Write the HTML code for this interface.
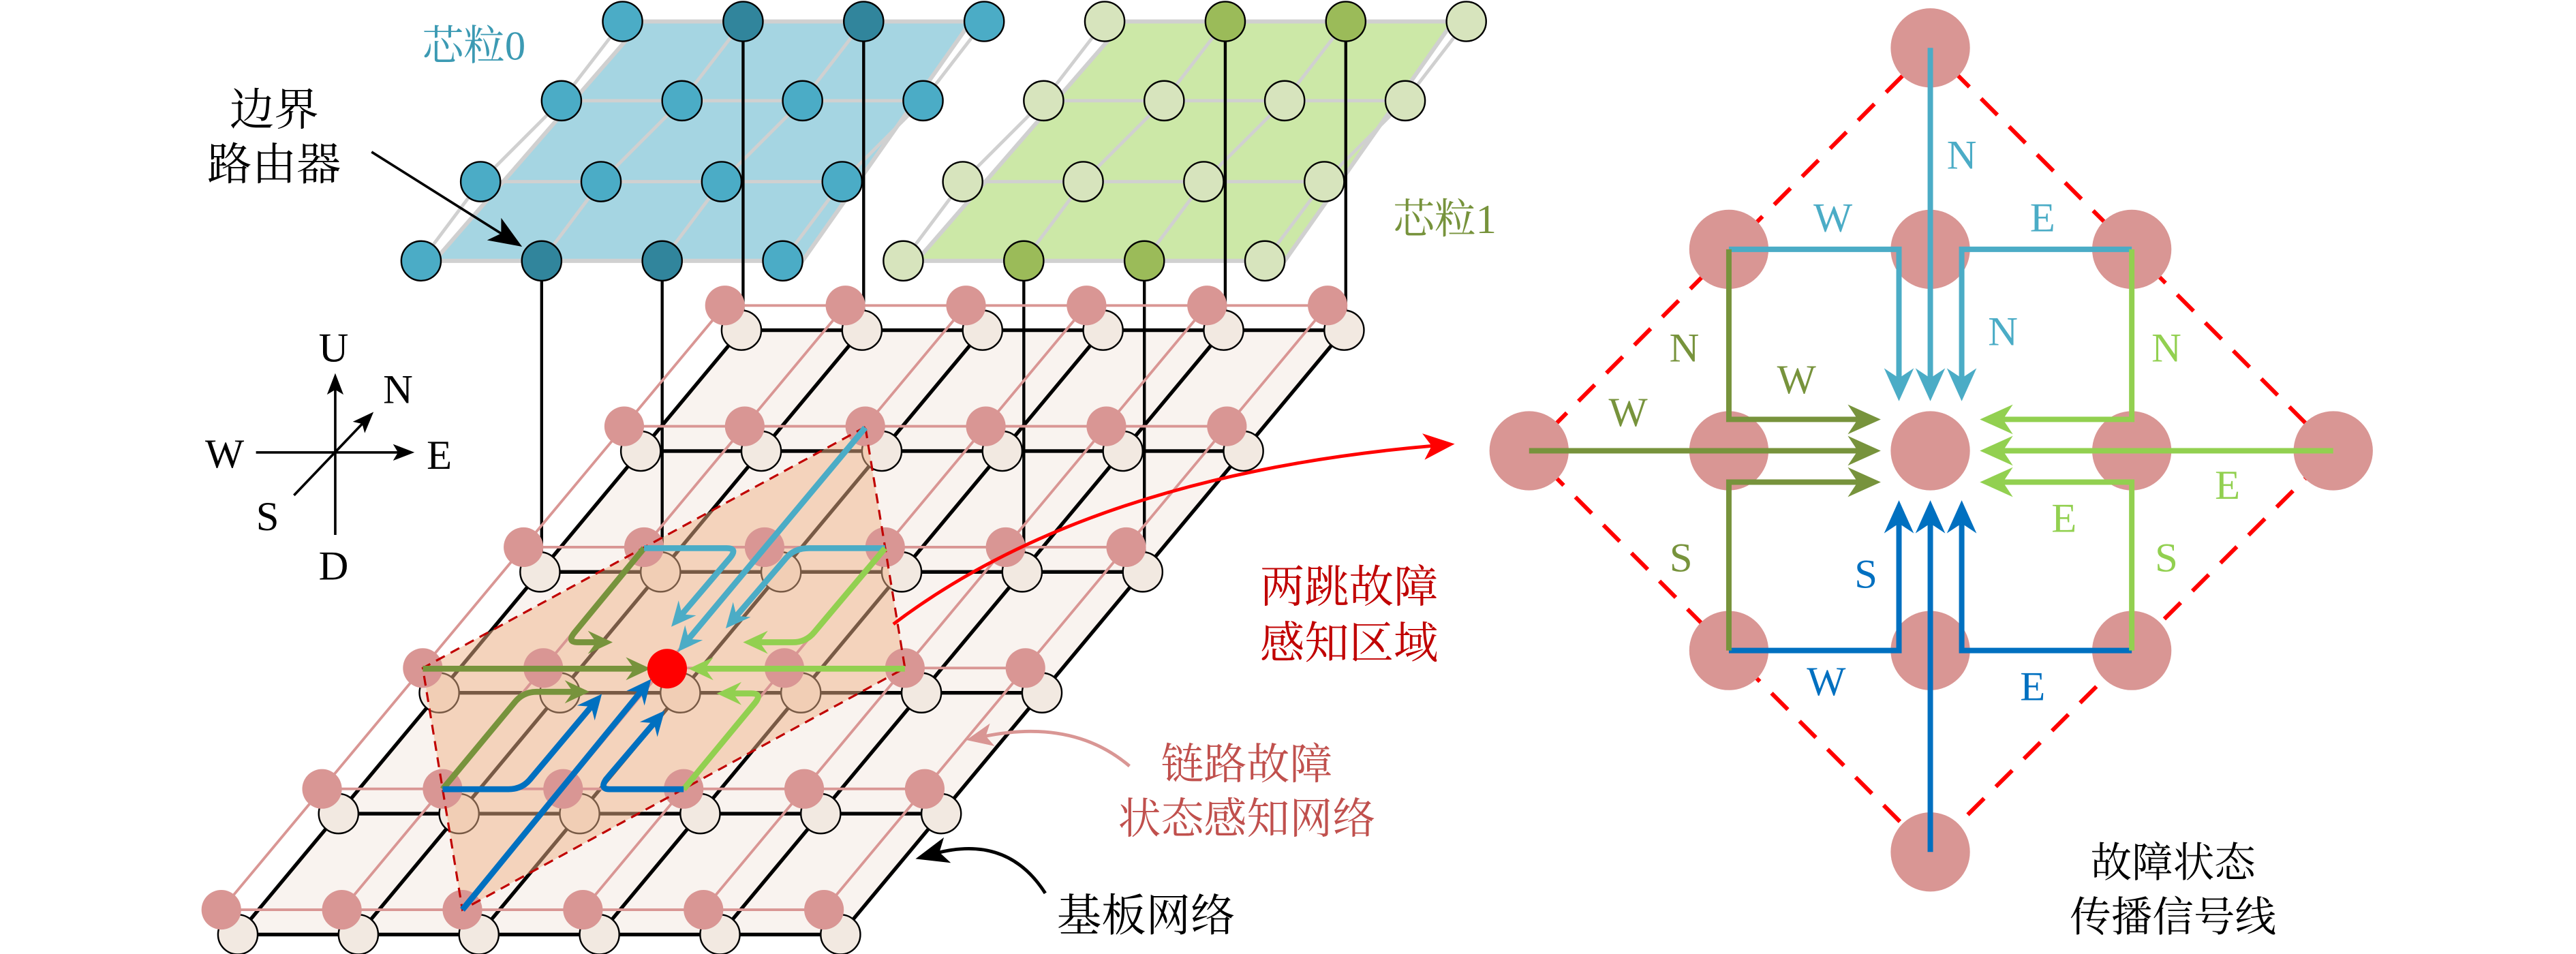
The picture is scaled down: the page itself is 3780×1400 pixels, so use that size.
<!DOCTYPE html>
<html><head><meta charset="utf-8"><style>
html,body{margin:0;padding:0;background:#fff;width:3780px;height:1400px;overflow:hidden}
svg{display:block}
text{font-family:"Liberation Serif","Noto Serif CJK SC","DejaVu Serif",serif;text-anchor:middle;dominant-baseline:central}
</style></head><body>
<svg width="3780" height="1400" viewBox="0 0 1560 577.8" xmlns="http://www.w3.org/2000/svg" font-family="'Liberation Serif','Noto Serif CJK SC','DejaVu Serif',serif">
<defs>
<marker id="sOl" markerUnits="userSpaceOnUse" markerWidth="40" markerHeight="40" viewBox="-20 -20 40 40" refX="0" refY="0" orient="auto"><path d="M10,0 L-5,-7 L0,0 L-5,7z" fill="#77933c"/></marker>
<marker id="sLb" markerUnits="userSpaceOnUse" markerWidth="40" markerHeight="40" viewBox="-20 -20 40 40" refX="0" refY="0" orient="auto"><path d="M10,0 L-5,-7 L0,0 L-5,7z" fill="#4bacc6"/></marker>
<marker id="sGr" markerUnits="userSpaceOnUse" markerWidth="40" markerHeight="40" viewBox="-20 -20 40 40" refX="0" refY="0" orient="auto"><path d="M10,0 L-5,-7 L0,0 L-5,7z" fill="#92d050"/></marker>
<marker id="sBl" markerUnits="userSpaceOnUse" markerWidth="40" markerHeight="40" viewBox="-20 -20 40 40" refX="0" refY="0" orient="auto"><path d="M10,0 L-5,-7 L0,0 L-5,7z" fill="#0070c0"/></marker>
<marker id="bOl" markerUnits="userSpaceOnUse" markerWidth="40" markerHeight="40" viewBox="-20 -20 40 40" refX="0" refY="0" orient="auto"><path d="M14,0 L-6,-9 L0,0 L-6,9z" fill="#77933c"/></marker>
<marker id="bLb" markerUnits="userSpaceOnUse" markerWidth="40" markerHeight="40" viewBox="-20 -20 40 40" refX="0" refY="0" orient="auto"><path d="M14,0 L-6,-9 L0,0 L-6,9z" fill="#4bacc6"/></marker>
<marker id="bGr" markerUnits="userSpaceOnUse" markerWidth="40" markerHeight="40" viewBox="-20 -20 40 40" refX="0" refY="0" orient="auto"><path d="M14,0 L-6,-9 L0,0 L-6,9z" fill="#92d050"/></marker>
<marker id="bBl" markerUnits="userSpaceOnUse" markerWidth="40" markerHeight="40" viewBox="-20 -20 40 40" refX="0" refY="0" orient="auto"><path d="M14,0 L-6,-9 L0,0 L-6,9z" fill="#0070c0"/></marker>
<marker id="kBig" markerUnits="userSpaceOnUse" markerWidth="40" markerHeight="40" viewBox="-20 -20 40 40" refX="0" refY="0" orient="auto"><path d="M12,0 L-8,-8 L-3,0 L-8,8z" fill="#000"/></marker>
<marker id="kSm" markerUnits="userSpaceOnUse" markerWidth="40" markerHeight="40" viewBox="-20 -20 40 40" refX="0" refY="0" orient="auto"><path d="M9,0 L-4,-5 L-1,0 L-4,5z" fill="#000"/></marker>
<marker id="red" markerUnits="userSpaceOnUse" markerWidth="40" markerHeight="40" viewBox="-20 -20 40 40" refX="0" refY="0" orient="auto"><path d="M13,0 L-6,-8 L-1,0 L-6,8z" fill="#ff0000"/></marker>
<marker id="pink" markerUnits="userSpaceOnUse" markerWidth="40" markerHeight="40" viewBox="-20 -20 40 40" refX="0" refY="0" orient="auto"><path d="M11,0 L-5,-7 L-1,0 L-5,7z" fill="#d99694"/></marker>
</defs>

<polygon points="389,13 588,13 486,158 263,158" fill="#a5d5e2" stroke="#d0d0d0" stroke-width="2.5"/>
<polygon points="681,13 880,13 778,158 555,158" fill="#cce8a7" stroke="#d0d0d0" stroke-width="2.5"/>
<g stroke="#d0d0d0" stroke-width="2" fill="none">
<path d="M377,13H596 M340,61H559 M291,110H510 M255,158H474 M377,13L340,61L291,110L255,158 M450,13L413,61L364,110L328,158 M523,13L486,61L437,110L401,158 M596,13L559,61L510,110L474,158"/>
<path d="M669,13H888 M632,61H851 M583,110H802 M547,158H766 M669,13L632,61L583,110L547,158 M742,13L705,61L656,110L620,158 M815,13L778,61L729,110L693,158 M888,13L851,61L802,110L766,158"/>
</g>

<polygon points="449,200 814,200 509,566 144,566" fill="#f9f3ef"/>

<g stroke="#000" stroke-width="1.8">
<path d="M450,13V200 M523,13V200 M742,13V200 M815,13V200 M328,158V346 M401,158V346 M620,158V346 M693,158V346"/>
</g>

<g stroke="#000" stroke-width="2.2" fill="none">
<path d="M449,200H814 M388,273.2H753 M327,346.4H692 M266,419.6H631 M205,492.8H570 M144,566H509"/>
<path d="M449,200L144,566 M522,200L217,566 M595,200L290,566 M668,200L363,566 M741,200L436,566 M814,200L509,566"/>
</g>
<g fill="#f2e9e1" stroke="#000" stroke-width="1">
<circle cx="449" cy="200" r="12"/><circle cx="522" cy="200" r="12"/><circle cx="595" cy="200" r="12"/><circle cx="668" cy="200" r="12"/><circle cx="741" cy="200" r="12"/><circle cx="814" cy="200" r="12"/>
<circle cx="388" cy="273.2" r="12"/><circle cx="461" cy="273.2" r="12"/><circle cx="534" cy="273.2" r="12"/><circle cx="607" cy="273.2" r="12"/><circle cx="680" cy="273.2" r="12"/><circle cx="753" cy="273.2" r="12"/>
<circle cx="327" cy="346.4" r="12"/><circle cx="400" cy="346.4" r="12"/><circle cx="473" cy="346.4" r="12"/><circle cx="546" cy="346.4" r="12"/><circle cx="619" cy="346.4" r="12"/><circle cx="692" cy="346.4" r="12"/>
<circle cx="266" cy="419.6" r="12"/><circle cx="339" cy="419.6" r="12"/><circle cx="412" cy="419.6" r="12"/><circle cx="485" cy="419.6" r="12"/><circle cx="558" cy="419.6" r="12"/><circle cx="631" cy="419.6" r="12"/>
<circle cx="205" cy="492.8" r="12"/><circle cx="278" cy="492.8" r="12"/><circle cx="351" cy="492.8" r="12"/><circle cx="424" cy="492.8" r="12"/><circle cx="497" cy="492.8" r="12"/><circle cx="570" cy="492.8" r="12"/>
<circle cx="144" cy="566" r="12"/><circle cx="217" cy="566" r="12"/><circle cx="290" cy="566" r="12"/><circle cx="363" cy="566" r="12"/><circle cx="436" cy="566" r="12"/><circle cx="509" cy="566" r="12"/>
</g>

<polygon points="524,258.6 256,404.6 280,551 548,404.6" fill="#f0b48a" opacity="0.5"/>

<g stroke="#d99694" stroke-width="1.6" fill="none">
<path d="M439,185H804 M378,258.2H743 M317,331.4H682 M256,404.6H621 M195,477.8H560 M134,551H499"/>
<path d="M439,185L134,551 M512,185L207,551 M585,185L280,551 M658,185L353,551 M731,185L426,551 M804,185L499,551"/>
</g>
<g fill="#d99694">
<circle cx="439" cy="185" r="12"/><circle cx="512" cy="185" r="12"/><circle cx="585" cy="185" r="12"/><circle cx="658" cy="185" r="12"/><circle cx="731" cy="185" r="12"/><circle cx="804" cy="185" r="12"/>
<circle cx="378" cy="258.2" r="12"/><circle cx="451" cy="258.2" r="12"/><circle cx="524" cy="258.2" r="12"/><circle cx="597" cy="258.2" r="12"/><circle cx="670" cy="258.2" r="12"/><circle cx="743" cy="258.2" r="12"/>
<circle cx="317" cy="331.4" r="12"/><circle cx="390" cy="331.4" r="12"/><circle cx="463" cy="331.4" r="12"/><circle cx="536" cy="331.4" r="12"/><circle cx="609" cy="331.4" r="12"/><circle cx="682" cy="331.4" r="12"/>
<circle cx="256" cy="404.6" r="12"/><circle cx="329" cy="404.6" r="12"/><circle cx="475" cy="404.6" r="12"/><circle cx="548" cy="404.6" r="12"/><circle cx="621" cy="404.6" r="12"/>
<circle cx="195" cy="477.8" r="12"/><circle cx="268" cy="477.8" r="12"/><circle cx="341" cy="477.8" r="12"/><circle cx="414" cy="477.8" r="12"/><circle cx="487" cy="477.8" r="12"/><circle cx="560" cy="477.8" r="12"/>
<circle cx="134" cy="551" r="12"/><circle cx="207" cy="551" r="12"/><circle cx="280" cy="551" r="12"/><circle cx="353" cy="551" r="12"/><circle cx="426" cy="551" r="12"/><circle cx="499" cy="551" r="12"/>
</g>
<polygon points="524,258.6 256,404.6 280,551 548,404.6" fill="none" stroke="#c00000" stroke-width="1.3" stroke-dasharray="6,4"/>

<g fill="none" stroke-width="3.6" stroke-linejoin="round">
<path d="M256,405 L384,405" stroke="#77933c" marker-end="url(#sOl)"/>
<path d="M390,332 L348,383 Q343,389 350,389 L361,389" stroke="#77933c" marker-end="url(#sOl)"/>
<path d="M268,478 L312,425 Q317,419 325,419 L347,419" stroke="#77933c" marker-end="url(#sOl)"/>
<path d="M524,259 L417,387" stroke="#4bacc6" marker-end="url(#sLb)"/>
<path d="M390,332 L440,332 Q447,332 442,338 L413,372" stroke="#4bacc6" marker-end="url(#sLb)"/>
<path d="M536,332 L490,332 Q481,332 476,338 L446,373" stroke="#4bacc6" marker-end="url(#sLb)"/>
<path d="M548,405 L427,405" stroke="#92d050" marker-end="url(#sGr)"/>
<path d="M536,332 L493,383 Q488,389 480,389 L460,389" stroke="#92d050" marker-end="url(#sGr)"/>
<path d="M414,478 L457,426 Q462,420 455,420 L444,420" stroke="#92d050" marker-end="url(#sGr)"/>
<path d="M280,551 L388,419" stroke="#0070c0" marker-end="url(#sBl)"/>
<path d="M268,478 L308,478 Q316,478 321,472 L358,428" stroke="#0070c0" marker-end="url(#sBl)"/>
<path d="M414,478 L369,478 Q363,478 367,472 L396,438" stroke="#0070c0" marker-end="url(#sBl)"/>
</g>
<circle cx="404" cy="405" r="12" fill="#ff0000"/>

<g stroke="#000" stroke-width="1">
<circle cx="377" cy="13" r="12" fill="#4bacc6"/><circle cx="450" cy="13" r="12" fill="#31859c"/><circle cx="523" cy="13" r="12" fill="#31859c"/><circle cx="596" cy="13" r="12" fill="#4bacc6"/>
<circle cx="340" cy="61" r="12" fill="#4bacc6"/><circle cx="413" cy="61" r="12" fill="#4bacc6"/><circle cx="486" cy="61" r="12" fill="#4bacc6"/><circle cx="559" cy="61" r="12" fill="#4bacc6"/>
<circle cx="291" cy="110" r="12" fill="#4bacc6"/><circle cx="364" cy="110" r="12" fill="#4bacc6"/><circle cx="437" cy="110" r="12" fill="#4bacc6"/><circle cx="510" cy="110" r="12" fill="#4bacc6"/>
<circle cx="255" cy="158" r="12" fill="#4bacc6"/><circle cx="328" cy="158" r="12" fill="#31859c"/><circle cx="401" cy="158" r="12" fill="#31859c"/><circle cx="474" cy="158" r="12" fill="#4bacc6"/>
<circle cx="669" cy="13" r="12" fill="#d7e4bd"/><circle cx="742" cy="13" r="12" fill="#9bbb59"/><circle cx="815" cy="13" r="12" fill="#9bbb59"/><circle cx="888" cy="13" r="12" fill="#d7e4bd"/>
<circle cx="632" cy="61" r="12" fill="#d7e4bd"/><circle cx="705" cy="61" r="12" fill="#d7e4bd"/><circle cx="778" cy="61" r="12" fill="#d7e4bd"/><circle cx="851" cy="61" r="12" fill="#d7e4bd"/>
<circle cx="583" cy="110" r="12" fill="#d7e4bd"/><circle cx="656" cy="110" r="12" fill="#d7e4bd"/><circle cx="729" cy="110" r="12" fill="#d7e4bd"/><circle cx="802" cy="110" r="12" fill="#d7e4bd"/>
<circle cx="547" cy="158" r="12" fill="#d7e4bd"/><circle cx="620" cy="158" r="12" fill="#9bbb59"/><circle cx="693" cy="158" r="12" fill="#9bbb59"/><circle cx="766" cy="158" r="12" fill="#d7e4bd"/>
</g>

<path d="M225,92 L306,143" stroke="#000" stroke-width="1.5" fill="none" marker-end="url(#kBig)"/>

<g stroke="#000" stroke-width="1.5" fill="none">
<path d="M203,324 V235" marker-end="url(#kSm)"/>
<path d="M155,274 H242" marker-end="url(#kSm)"/>
<path d="M178,300 L220,256" marker-end="url(#kSm)"/>
</g>

<path d="M541,378 Q660,288 868,270" stroke="#ff0000" stroke-width="2" fill="none" marker-end="url(#red)"/>
<path d="M684,464 Q650,435 596,446" stroke="#d99694" stroke-width="2" fill="none" marker-end="url(#pink)"/>
<path d="M633,541 Q610,505 566,517" stroke="#000" stroke-width="2" fill="none" marker-end="url(#kBig)"/>

<text x="287" y="28" font-size="25" fill="#3c9ab3">芯粒0</text>
<text x="166" y="67" font-size="27" fill="#000">边界</text>
<text x="166" y="100" font-size="27" fill="#000">路由器</text>
<text x="875" y="133" font-size="25" fill="#77933c">芯粒1</text>
<text x="202" y="211" font-size="25">U</text>
<text x="241" y="236" font-size="25">N</text>
<text x="136" y="275" font-size="25">W</text>
<text x="266" y="276" font-size="25">E</text>
<text x="162" y="313" font-size="25">S</text>
<text x="202" y="343" font-size="25">D</text>
<text x="817" y="356" font-size="27" fill="#c00000">两跳故障</text>
<text x="817" y="390" font-size="27" fill="#c00000">感知区域</text>
<text x="755" y="463" font-size="26" fill="#c0504d">链路故障</text>
<text x="755" y="496" font-size="26" fill="#c0504d">状态感知网络</text>
<text x="694" y="555" font-size="27" fill="#000">基板网络</text>

<polygon points="1169,29 926,273 1169,516 1413,273" fill="none" stroke="#ff0000" stroke-width="2.5" stroke-dasharray="14,10"/>
<g fill="#d99694">
<circle cx="1169" cy="29" r="24"/>
<circle cx="1047" cy="151" r="24"/><circle cx="1169" cy="151" r="24"/><circle cx="1291" cy="151" r="24"/>
<circle cx="926" cy="273" r="24"/><circle cx="1047" cy="273" r="24"/><circle cx="1169" cy="273" r="24"/><circle cx="1291" cy="273" r="24"/><circle cx="1413" cy="273" r="24"/>
<circle cx="1047" cy="394" r="24"/><circle cx="1169" cy="394" r="24"/><circle cx="1291" cy="394" r="24"/>
<circle cx="1169" cy="516" r="24"/>
</g>
<g fill="none" stroke-width="3.3" stroke-linejoin="miter">
<path d="M1047,151 H1150 V229" stroke="#4bacc6" marker-end="url(#bLb)"/>
<path d="M1291,151 H1188 V229" stroke="#4bacc6" marker-end="url(#bLb)"/>
<path d="M1047,394 H1150 V317" stroke="#0070c0" marker-end="url(#bBl)"/>
<path d="M1291,394 H1188 V317" stroke="#0070c0" marker-end="url(#bBl)"/>
<path d="M1047,151 V254 H1125" stroke="#77933c" marker-end="url(#bOl)"/>
<path d="M1047,394 V292 H1125" stroke="#77933c" marker-end="url(#bOl)"/>
<path d="M926,273 H1125" stroke="#77933c" marker-end="url(#bOl)"/>
<path d="M1291,151 V254 H1213" stroke="#92d050" marker-end="url(#bGr)"/>
<path d="M1291,394 V292 H1213" stroke="#92d050" marker-end="url(#bGr)"/>
<path d="M1413,273 H1213" stroke="#92d050" marker-end="url(#bGr)"/>
<path d="M1169,29 V229" stroke="#4bacc6" marker-end="url(#bLb)"/>
<path d="M1169,516 V317" stroke="#0070c0" marker-end="url(#bBl)"/>
</g>
<g font-size="25">
<text x="1188" y="94" fill="#4bacc6">N</text>
<text x="1110" y="132" fill="#4bacc6">W</text>
<text x="1237" y="132" fill="#4bacc6">E</text>
<text x="1213" y="201" fill="#4bacc6">N</text>
<text x="1020" y="211" fill="#77933c">N</text>
<text x="1088" y="230" fill="#77933c">W</text>
<text x="986" y="250" fill="#77933c">W</text>
<text x="1018" y="338" fill="#77933c">S</text>
<text x="1312" y="211" fill="#92d050">N</text>
<text x="1349" y="294" fill="#92d050">E</text>
<text x="1250" y="314" fill="#92d050">E</text>
<text x="1312" y="338" fill="#92d050">S</text>
<text x="1130" y="348" fill="#0070c0">S</text>
<text x="1106" y="413" fill="#0070c0">W</text>
<text x="1231" y="416" fill="#0070c0">E</text>
</g>
<text x="1316" y="523" font-size="25" fill="#000">故障状态</text>
<text x="1316" y="556" font-size="25" fill="#000">传播信号线</text>
</svg>
</body></html>
